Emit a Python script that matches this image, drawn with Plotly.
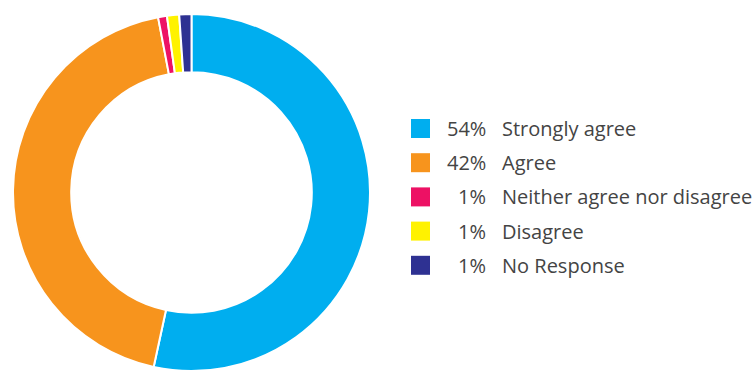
import plotly.graph_objects as go

# Data
categories = ["Strongly agree", "Agree", "Neither agree nor disagree", "Disagree", "No Response"]
pct_labels = ["54%", "42%", "1%", "1%", "1%"]
# slice shares as read from the drawn donut
shares = [53.4, 43.6, 0.8, 1.1, 1.1]
colors = ["#00aeef", "#f7941d", "#ed1164", "#fff200", "#2e3192"]

W, H = 753, 371

fig = go.Figure()
fig.add_trace(go.Pie(
    labels=categories,
    values=shares,
    hole=0.674,
    sort=False,
    direction="clockwise",
    rotation=0,
    textinfo="none",
    hoverinfo="label+percent",
    marker=dict(colors=colors, line=dict(color="white", width=2)),
    domain=dict(x=[13 / W, 370 / W], y=[0, 357 / H]),
    showlegend=False,
))

# custom legend
row0 = 128.5
step = 34.2
font = dict(family="Open Sans, Liberation Sans, Arial, sans-serif", size=20, color="#444444")
for i, (cat, pct, col) in enumerate(zip(categories, pct_labels, colors)):
    yc = row0 + i * step
    fig.add_shape(type="rect", xref="paper", yref="paper",
                  x0=411 / W, x1=430 / W,
                  y0=1 - (yc - 9.5) / H, y1=1 - (yc + 9.5) / H,
                  fillcolor=col, line=dict(width=0))
    fig.add_annotation(xref="paper", yref="paper", x=488 / W, y=1 - yc / H,
                       text=pct, showarrow=False, xanchor="right", yanchor="middle",
                       font=font)
    fig.add_annotation(xref="paper", yref="paper", x=500 / W, y=1 - yc / H,
                       text=cat, showarrow=False, xanchor="left", yanchor="middle",
                       font=font)

fig.update_layout(
    width=W, height=H,
    margin=dict(l=0, r=0, t=0, b=0),
    paper_bgcolor="white",
    plot_bgcolor="white",
)

fig.write_html("out.html")
